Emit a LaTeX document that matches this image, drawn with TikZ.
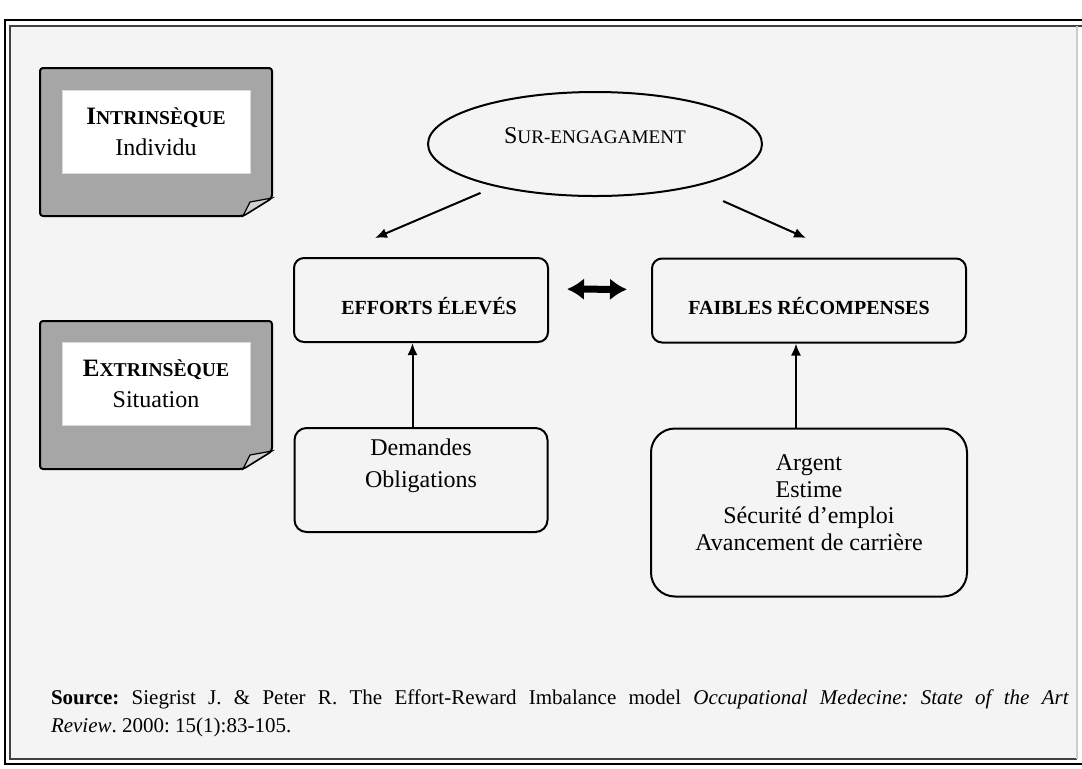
\documentclass[tikz,border=0pt]{standalone}
\usepackage{fontspec}
\setmainfont{Liberation Serif}
\usetikzlibrary{shapes.geometric,positioning,arrows.meta}
\definecolor{panel}{RGB}{244,244,244}
\definecolor{notegray}{RGB}{166,166,166}
\definecolor{foldgray}{RGB}{208,208,208}

\begin{document}
\begin{tikzpicture}[x=0.5pt,y=-0.5pt,>={Latex[length=6pt,width=5pt]},line width=1pt,
    every node/.style={align=center,font=\fontsize{12}{13.3}\selectfont},
    box/.style={draw,fill=panel,rounded corners=5pt,minimum height=42pt},
    lab/.style={font=\fontsize{10}{12}\selectfont\bfseries},
    tag/.style={fill=white,draw=black!15,line width=0.5pt,minimum width=94pt,minimum height=41.5pt,inner sep=0pt,font=\fontsize{12}{15.5}\selectfont}]
  \useasboundingbox (0,0) rectangle (1082,768);
  \fill[white] (0,0) rectangle (1082,768);
  \fill[panel] (10,26) rectangle (1077,759);
  % double frame
  \draw[line width=1.2pt] (1082,20) -- (5,20) -- (5,764) -- (1082,764);
  \draw[line width=0.8pt,black!75] (1082,26) -- (10,26) -- (10,759) -- (1077,759);
  \draw[line width=0.6pt,black!20] (1077,26) -- (1077,759);

  % gray notes with folded corner
  \foreach \t in {68,321}{
    \draw[fill=notegray,rounded corners=1.5pt] (40,\t) -- (272,\t) -- (272,\t+130) -- (243,\t+148) -- (40,\t+148) -- cycle;
    \draw[fill=foldgray,line width=0.6pt] (243,\t+148) -- (250,\t+134) -- (272,\t+130) -- cycle;
  }
  \node[tag] (IN) at (156,131.5) {\textbf{{\fontsize{12.5}{15}\selectfont I}{\fontsize{9.8}{15}\selectfont NTRINSÈQUE}}\\Individu};
  \node[tag] (EX) at (156,383.5) {\textbf{{\fontsize{12.5}{15}\selectfont E}{\fontsize{9.8}{15}\selectfont XTRINSÈQUE}}\\Situation};

  \node[draw,ellipse,fill=panel,minimum width=167pt,minimum height=52pt] (SE) at (595,144)
    [label={[yshift=4pt]center:{\fontsize{12}{14}\selectfont S}{\fontsize{9.6}{14}\selectfont UR-ENGAGAMENT}}] {};

  \node[box,minimum width=127pt] (EE) at (421,300) [label={[lab,xshift=4pt,yshift=-3pt]center:EFFORTS ÉLEVÉS}] {};
  \node[box,minimum width=157pt] (FR) at (809,300.5) [label={[lab,yshift=-3pt]center:FAIBLES RÉCOMPENSES}] {};
  \node[box,rounded corners=6pt,minimum width=126.5pt,minimum height=52pt] (DO) [below=42pt of EE]
    [label={[yshift=7pt,font=\fontsize{12}{16}\selectfont]center:Demandes\\Obligations}] {};
  \node[box,rounded corners=12pt,minimum width=158pt,minimum height=84pt] (AE) [below=42pt of FR]
    [label={[yshift=5pt]center:Argent\\Estime\\Sécurité d’emploi\\Avancement de carrière}] {};

  \coordinate (l2) at (375,238);
  \coordinate (r2) at (806,238);

  \draw[->,shorten <=8pt] (SE) -- (l2);
  \draw[->,shorten <=17pt] (SE) -- (r2);
  \draw[<->,line width=3.5pt,>={Latex[length=8.5pt,width=11pt]},shorten <=9pt,shorten >=12pt]
    ([yshift=5.5pt]EE.east) -- ([yshift=5.5pt]FR.west);
  \draw[->] ([xshift=-4.25pt]DO.north) -- ([xshift=-4.25pt]EE.south);
  \draw[->] ([xshift=-6.5pt]AE.north) -- ([xshift=-6.5pt]FR.south);

  % source
  \node[anchor=base west,inner sep=0pt,font=\fontsize{10.5}{14}\selectfont\frenchspacing] (SRC1) at (50,704)
    {\makebox[509pt][s]{\textbf{Source:} Siegrist J. \& Peter R. The Effort-Reward Imbalance model \textit{Occupational Medecine: State of the Art}}};
  \node[anchor=base west,inner sep=0pt,font=\fontsize{10.5}{14}\selectfont\frenchspacing] (SRC2) at ([yshift=-14pt]SRC1.base west)
    {\textit{Review}. 2000: 15(1):83-105.};
\end{tikzpicture}
\end{document}
